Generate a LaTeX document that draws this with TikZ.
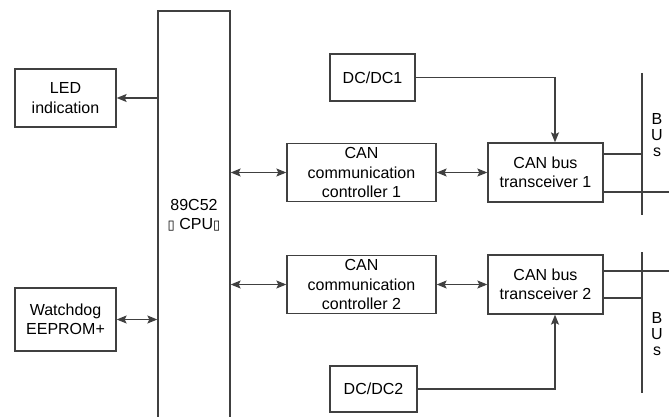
\documentclass[tikz,border=0pt]{standalone}
\usepackage{fontspec}
\setmainfont{Liberation Sans}
\newfontfamily\tofufont{DejaVu Sans}
\usetikzlibrary{arrows.meta, positioning}
\definecolor{linegray}{RGB}{64, 64, 64}
\newcommand{\tofu}{{\tofufont\fontsize{13}{13}\selectfont ▯}}
\tikzset{
    blk/.style={
        rectangle,
        draw=linegray,
        line width=1.3pt,
        inner sep=0pt,
        align=center,
        font=\fontsize{16}{19.5}\selectfont
    },
    sig/.style={
        -{Stealth[length=10pt, width=8pt, inset=2pt]},
        draw=linegray,
        line width=1.3pt
    },
    bisig/.style={
        {Stealth[length=10pt, width=8pt, inset=2pt]}-{Stealth[length=10pt, width=8pt, inset=2pt]},
        draw=linegray,
        line width=1.3pt
    },
    wire/.style={
        draw=linegray,
        line width=1.3pt
    },
    buslabel/.style={
        align=center,
        inner sep=0pt,
        font=\fontsize{16}{16}\selectfont
    }
}

\begin{document}
\begin{tikzpicture}[x=1pt, y=-1pt]
    \useasboundingbox (0,0) rectangle (669,417);
    % processor and its neighbours
    \node[blk, minimum width=72pt, minimum height=408pt] (cpu) at (194,215) {89C52\\\tofu\ CPU\tofu};
    \node[blk, minimum width=101pt, minimum height=58pt] (led) at (65.5,98) {LED\\indication};
    \node[blk, minimum width=101pt, minimum height=63pt] (wd) at (65.5,319.5) {Watchdog\\EEPROM+};
    % two CAN channels
    \node[blk, minimum width=149pt, minimum height=58pt] (can1) at (361.5,172.5) {CAN\\communication\\controller 1};
    \node[blk, minimum width=149pt, minimum height=58pt] (can2) at (361.5,284.5) {CAN\\communication\\controller 2};
    \node[blk, minimum width=115pt, minimum height=59pt] (tr1) at (545.5,172.5) {CAN bus\\transceiver 1};
    \node[blk, minimum width=115pt, minimum height=59pt] (tr2) at (545.5,284.5) {CAN bus\\transceiver 2};
    \node[blk, minimum width=85pt, minimum height=47pt] (dc1) at (372.5,77.5) {DC/DC1};
    \node[blk, minimum width=87pt, minimum height=46pt] (dc2) at (373.5,389) {DC/DC2};

    \draw[sig] (cpu.west |- led.east) -- (led.east);
    \draw[bisig] (wd.east) -- (cpu.west |- wd.east);
    \draw[bisig] (cpu.east |- can1.west) -- (can1.west);
    \draw[bisig] (cpu.east |- can2.west) -- (can2.west);
    \draw[bisig] (can1.east) -- (tr1.west);
    \draw[bisig] (can2.east) -- (tr2.west);
    \draw[sig] (dc1.east) -| ([xshift=9.5pt]tr1.north);
    \draw[sig] (dc2.east) -| ([xshift=9.5pt]tr2.south);

    % bus lines
    \coordinate (bus1top) at (642,73);
    \coordinate (bus1bot) at (642,215);
    \coordinate (bus2top) at (642,252);
    \coordinate (bus2bot) at (642,393);
    \coordinate (rim) at (670,0);
    \draw[wire] (bus1top) -- (bus1bot);
    \draw[wire] (bus2top) -- (bus2bot);
    \draw[wire] ([yshift=18.5pt]tr1.east) -- ([yshift=18.5pt]tr1.east -| bus1top);
    \draw[wire] ([yshift=-19.5pt]tr1.east) -- ([yshift=-19.5pt]tr1.east -| rim);
    \draw[wire] ([yshift=13.5pt]tr2.east) -- ([yshift=13.5pt]tr2.east -| rim);
    \draw[wire] ([yshift=-13.5pt]tr2.east) -- ([yshift=-13.5pt]tr2.east -| bus2top);
    \node[buslabel] (bus1name) at (657,135) {B\\U\\s};
    \node[buslabel] (bus2name) at (657,334) {B\\U\\s};
\end{tikzpicture}
\end{document}
